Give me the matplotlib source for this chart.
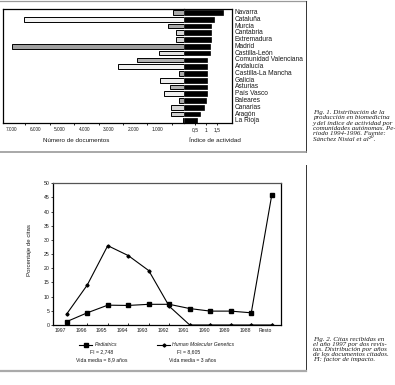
import matplotlib
matplotlib.use("Agg")
import matplotlib.pyplot as plt
import matplotlib.transforms as mtransforms
from matplotlib.lines import Line2D
from matplotlib.ticker import FixedLocator

plt.rcParams['font.family'] = ['Liberation Sans', 'DejaVu Sans']

# ---------------- data ----------------
regions = ["Navarra", "Cataluña", "Murcia", "Cantabria", "Extremadura", "Madrid",
           "Castilla-León", "Comunidad Valenciana", "Andalucía", "Castilla-La Mancha",
           "Galicia", "Asturias", "País Vasco", "Baleares", "Canarias", "Aragón", "La Rioja"]
documentos = [460, 6540, 640, 340, 340, 7060, 1040, 1940, 2720, 190,
              980, 560, 820, 190, 530, 530, 30]
indice = [1.78, 1.38, 1.26, 1.26, 1.26, 1.20, 1.20, 1.07, 1.07, 1.07,
          1.07, 1.07, 1.04, 1.01, 0.92, 0.74, 0.61]
doc_ticks = [1000, 2000, 3000, 4000, 5000, 6000, 7000]
doc_ticklabels = ["1.000", "2.000", "3.000", "4.000", "5.000", "6.000", "7.000"]
idx_ticks = [0.5, 1.0, 1.5]
idx_ticklabels = ["0,5", "1", "1,5"]

years = ["1997", "1996", "1995", "1994", "1993", "1992", "1991", "1990", "1989", "1988", "Resto"]
pediatrics = [1.2, 4.3, 7.0, 6.9, 7.3, 7.3, 5.8, 4.9, 4.9, 4.3, 45.9]
hmg = [3.9, 14.1, 28.0, 24.5, 19.2, 6.6, 0.0, 0.0, 0.0, 0.0, 0.0]
y_ticks = [0, 5, 10, 15, 20, 25, 30, 35, 40, 45, 50]

caption1 = ["Fig. 1. Distribución de la", "producción en biomedicina",
            "y del índice de actividad por", "comunidades autónomas. Pe-",
            "riodo 1994-1996. Fuente:", "Sánchez Nistal et al²⁰."]
caption2 = ["Fig. 2. Citas recibidas en", "el año 1997 por dos revis-",
            "tas. Distribución por años", "de los documentos citados.",
            "FI: factor de impacto."]

# styles (not data)
fill_colors = ["#a8a8a8", "#f2f2f2", "#a8a8a8", "#d4d4d4", "#d4d4d4", "#a0a0a0",
               "#e2e2e2", "#b0b0b0", "#f0f0f0", "#a8a8a8", "#eeeeee", "#b0b0b0",
               "#f0f0f0", "#a8a8a8", "#d6d6d6", "#d0d0d0", "#d0d0d0"]

W, H = 395, 385
fig = plt.figure(figsize=(W / 100, H / 100), dpi=100)


def fx(x):
    return x / W


def fy(y):
    return 1 - y / H


def px_axes(x0, y0, x1, y1):
    return fig.add_axes([fx(x0), fy(y1), (x1 - x0) / W, (y1 - y0) / H])


txt = "#1a1a1a"

# ---------------- Fig 1 ----------------
center = 184
axL = px_axes(3, 9, center, 123)
axR = px_axes(center, 9, 232, 123)
n = len(regions)
ylim = (16.33, -0.52)
rows = list(range(n))

axL.barh(rows, documentos, height=0.7, color=fill_colors,
         edgecolor="black", linewidth=0.7)
axL.set_xlim(7418, 0)
axL.set_ylim(*ylim)
axR.barh(rows, indice, height=0.7, color="black", edgecolor="black", linewidth=0.5)
axR.set_xlim(0, 2.21)
axR.set_ylim(*ylim)

for ax in (axL, axR):
    ax.set_yticks([])
    for s in ax.spines.values():
        s.set_linewidth(0.9)
axL.spines["right"].set_visible(False)
axR.spines["left"].set_visible(False)

axL.set_xticks(doc_ticks)
axL.set_xticklabels(doc_ticklabels)
axL.xaxis.set_minor_locator(FixedLocator([t - 500 for t in doc_ticks]))
axL.tick_params(axis="x", which="major", length=0, pad=3, labelsize=3.4, labelcolor=txt)
axL.tick_params(axis="x", which="minor", length=1.5, width=0.6, direction="out")
off = mtransforms.ScaledTranslation(-2 / 100, 0, fig.dpi_scale_trans)
for lab in axL.get_xticklabels():
    lab.set_transform(lab.get_transform() + off)

axR.set_xticks(idx_ticks)
axR.set_xticklabels(idx_ticklabels)
axR.tick_params(axis="x", length=1.5, width=0.6, pad=1.8, labelsize=3.6, labelcolor=txt)

lab_tr = mtransforms.blended_transform_factory(fig.transFigure, axR.transData)
for i, r in enumerate(regions):
    fig.text(fx(235), 0, r, transform=lab_tr, fontsize=4.8, color=txt,
             ha="left", va="center").set_y(i)

fig.text(fx(76), fy(141), "Número de documentos", fontsize=4.5, color=txt,
         ha="center", va="center")
fig.text(fx(215), fy(141), "Índice de actividad", fontsize=4.5, color=txt,
         ha="center", va="center")

# ---------------- Fig 2 ----------------
ax2 = px_axes(53, 183.3, 281, 325)
xs = list(range(len(years)))
ax2.plot(xs, pediatrics, color="black", lw=0.8, marker="s", markersize=2.6)
ax2.plot(xs, hmg, color="black", lw=0.8, marker="D", markersize=1.6)
ax2.set_xlim(-0.67, 10.45)
ax2.set_ylim(0, 50)
ax2.set_xticks(xs)
ax2.set_xticklabels(years)
ax2.set_yticks(y_ticks)
ax2.tick_params(axis="x", direction="in", length=1.5, width=0.6, pad=2,
                labelsize=3.7, labelcolor=txt)
ax2.tick_params(axis="y", direction="out", length=1.2, width=0.5, pad=1.5,
                labelsize=3.7, labelcolor=txt)
off2 = mtransforms.ScaledTranslation(-6 / 100, 0, fig.dpi_scale_trans)
for lab in ax2.get_xticklabels():
    lab.set_transform(lab.get_transform() + off2)
for s in ax2.spines.values():
    s.set_linewidth(0.9)
ax2.spines["top"].set_color("#555555")
fig.text(fx(30), fy(250), "Porcentaje de citas", rotation=90, fontsize=4.4,
         color=txt, ha="center", va="center")


# legend
def leg_entry(x0, x1, y, marker, ms):
    fig.add_artist(Line2D([fx(x0), fx(x1)], [fy(y), fy(y)], color="black", lw=0.8))
    fig.add_artist(Line2D([fx((x0 + x1) / 2)], [fy(y)], color="black",
                          marker=marker, markersize=ms, lw=0))


leg_entry(79, 92, 344.5, "s", 2.6)
fig.text(fx(95), fy(344.5), "Pediatrics", style="italic", fontsize=3.7,
         color=txt, ha="left", va="center")
fig.text(fx(102), fy(352), "FI = 2,748", fontsize=3.7, color=txt, ha="center", va="center")
fig.text(fx(102), fy(360), "Vida media = 8,9 años", fontsize=3.7, color=txt,
         ha="center", va="center")
leg_entry(157, 170, 344.5, "D", 1.6)
fig.text(fx(172), fy(344.5), "Human Molecular Genetics", style="italic", fontsize=3.7,
         color=txt, ha="left", va="center")
fig.text(fx(189), fy(352), "FI = 8,605", fontsize=3.7, color=txt, ha="center", va="center")
fig.text(fx(193), fy(360), "Vida media = 3 años", fontsize=3.7, color=txt,
         ha="center", va="center")

# ---------------- page layout lines ----------------
gray = "#9a9a9a"
fig.add_artist(Line2D([0, fx(305.5)], [fy(0.8), fy(0.8)], color=gray, lw=0.9))
fig.add_artist(Line2D([fx(305.5), fx(305.5)], [fy(0.5), fy(152)], color="#333333", lw=0.7))
fig.add_artist(Line2D([0, fx(305.5)], [fy(152), fy(152)], color=gray, lw=1.2))
fig.add_artist(Line2D([fx(305.5), fx(305.5)], [fy(165), fy(371)], color="#333333", lw=0.7))
fig.add_artist(Line2D([0, fx(305.5)], [fy(371), fy(371)], color="#aaaaaa", lw=1.6))

# captions
serif = ["Liberation Serif", "DejaVu Serif"]
for i, line in enumerate(caption1):
    fig.text(fx(313), fy(112.7 + 5.2 * i), line, family=serif, style="italic",
             fontsize=5.0, color=txt, ha="left", va="center")
for i, line in enumerate(caption2):
    fig.text(fx(313), fy(339.3 + 5.0 * i), line, family=serif, style="italic",
             fontsize=5.0, color=txt, ha="left", va="center")

fig.savefig("out.png", dpi=100)
